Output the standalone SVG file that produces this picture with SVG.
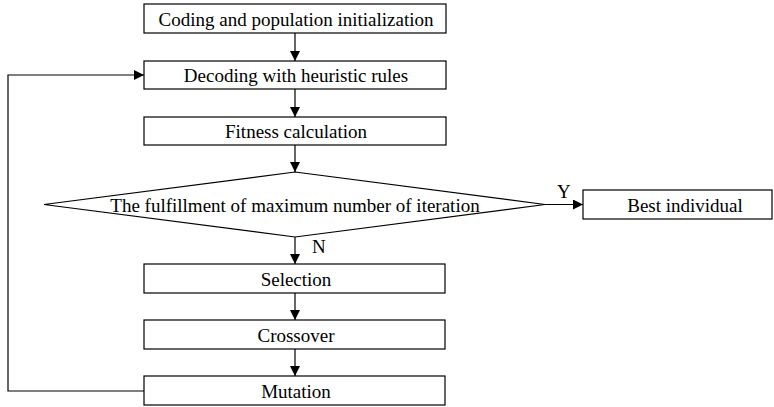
<svg xmlns="http://www.w3.org/2000/svg" width="774" height="407" viewBox="0 0 774 407">
<style>
.box{fill:#fff;stroke:#000;stroke-width:1.2}
.lbl{font-family:"Liberation Serif","Times New Roman",serif;font-size:19px;fill:#000;text-anchor:middle}
.tag{font-family:"Liberation Serif","Times New Roman",serif;font-size:19px;fill:#000}
.edge{fill:none;stroke:#000;stroke-width:1.2}
</style>
<defs>
<marker id="ah" markerWidth="10" markerHeight="10" refX="10" refY="5" orient="auto" markerUnits="userSpaceOnUse">
<path d="M0,0 L10,5 L0,10 Z" fill="#000"/>
</marker>
</defs>
<g id="edges">
<path class="edge" d="M295,33 V61" marker-end="url(#ah)"/>
<path class="edge" d="M295,89 V117" marker-end="url(#ah)"/>
<path class="edge" d="M295,145 V172" marker-end="url(#ah)"/>
<path class="edge" d="M545,204.5 H583" marker-end="url(#ah)"/>
<path class="edge" d="M295,237 V264" marker-end="url(#ah)"/>
<path class="edge" d="M295,293 V320" marker-end="url(#ah)"/>
<path class="edge" d="M295,349 V376" marker-end="url(#ah)"/>
<path class="edge" d="M144,391 H8 V75 H144" marker-end="url(#ah)"/>
<text class="tag" x="557" y="198">Y</text>
<text class="tag" x="312" y="253">N</text>
</g>
<g id="n1"><rect class="box" x="144" y="4" width="302" height="29"/><text class="lbl" x="296" y="26">Coding and population initialization</text></g>
<g id="n2"><rect class="box" x="144" y="61" width="302" height="28"/><text class="lbl" x="296" y="82">Decoding with heuristic rules</text></g>
<g id="n3"><rect class="box" x="144" y="117" width="302" height="28"/><text class="lbl" x="296" y="138">Fitness calculation</text></g>
<g id="n4"><polygon class="box" points="295,172 545,204.5 295,237 44,204.5"/><text class="lbl" x="295" y="212">The fulfillment of maximum number of iteration</text></g>
<g id="n5"><rect class="box" x="583" y="190" width="189" height="29"/><text class="lbl" x="685" y="212">Best individual</text></g>
<g id="n6"><rect class="box" x="144" y="264" width="301" height="29"/><text class="lbl" x="296" y="286">Selection</text></g>
<g id="n7"><rect class="box" x="144" y="320" width="301" height="29"/><text class="lbl" x="296" y="342">Crossover</text></g>
<g id="n8"><rect class="box" x="144" y="376" width="301" height="29"/><text class="lbl" x="296" y="398">Mutation</text></g>
</svg>
